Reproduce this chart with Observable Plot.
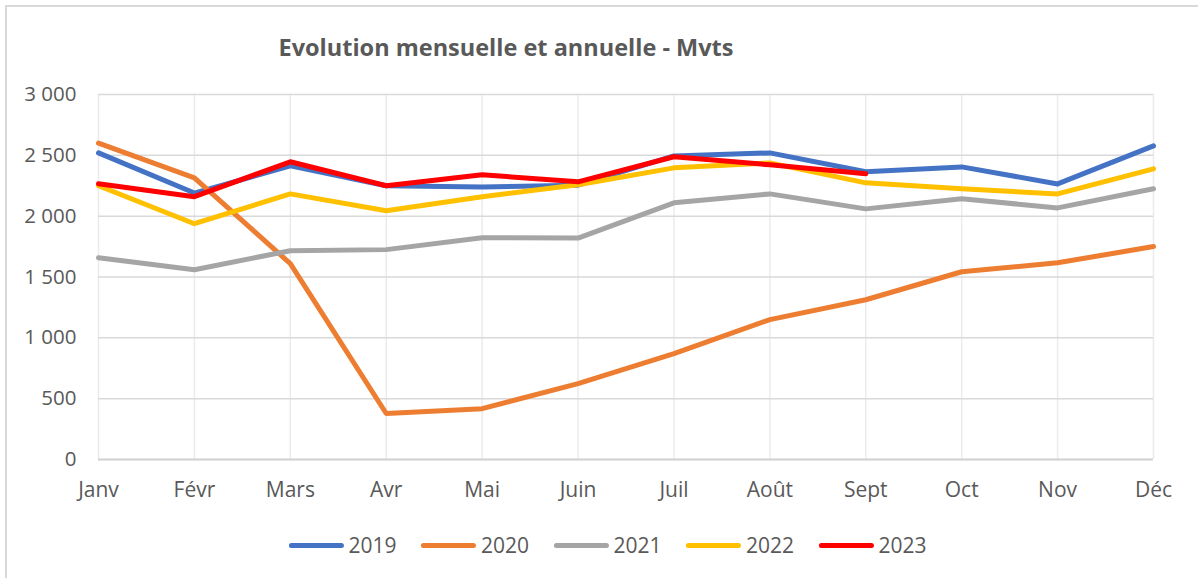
<!DOCTYPE html>
<html>
<head>
<meta charset="utf-8">
<script src="https://cdn.jsdelivr.net/npm/d3@7"></script>
<script src="https://cdn.jsdelivr.net/npm/@observablehq/plot@0.6"></script>
<style>
  html, body { margin: 0; padding: 0; background: #fff; }
  body { width: 1198px; height: 578px; position: relative; overflow: hidden; font-family: "Open Sans", sans-serif; }
  #frame { position: absolute; left: 5px; top: 5px; width: 1200px; height: 600px; border-top: 2px solid #d9d9d9; border-left: 2px solid #d9d9d9; box-sizing: border-box; }
  #title { position: absolute; left: 506px; top: 47px; transform: translate(-50%, -50%); font-size: 23.5px; font-weight: bold; color: #595959; white-space: nowrap; }
  #chart { position: absolute; left: 0; top: 70px; }
  #legend { position: absolute; left: 607.5px; top: 545px; transform: translate(-50%, -50%); display: flex; gap: 24.5px; font-size: 21px; color: #595959; white-space: nowrap; }
  .item { display: flex; align-items: center; gap: 5px; }
  .swatch { width: 55px; height: 5px; border-radius: 3px; }
</style>
</head>
<body>
<div id="frame"></div>
<div id="title">Evolution mensuelle et annuelle - Mvts</div>
<div id="chart"></div>
<div id="legend"></div>
<script>
const months = ["Janv","Févr","Mars","Avr","Mai","Juin","Juil","Août","Sept","Oct","Nov","Déc"];
const years = ["2019","2020","2021","2022","2023"];
const colors = ["#4472C4","#ED7D31","#A5A5A5","#FFC000","#FF0000"];
const yTicks = [0,500,1000,1500,2000,2500,3000];

const v2019 = [2520,2190,2414,2250,2240,2255,2495,2520,2365,2405,2265,2578];
const v2020 = [2600,2315,1610,378,418,624,870,1150,1313,1543,1617,1750];
const v2021 = [1658,1560,1716,1725,1823,1820,2110,2183,2060,2143,2068,2225];
const v2022 = [2250,1938,2183,2044,2160,2258,2397,2438,2274,2225,2183,2389];
const v2023 = [2266,2160,2447,2250,2340,2282,2488,2422,2348];

const series = [v2019, v2020, v2021, v2022, v2023];
const data = [];
series.forEach((vals, i) => vals.forEach((v, j) => data.push({year: years[i], month: months[j], value: v})));

const fmt = d => d3.format(",")(d).replace(/,/g, " ");

const chart = Plot.plot({
  width: 1198,
  height: 434,
  marginLeft: 98,
  marginRight: 45,
  marginTop: 24,
  marginBottom: 45,
  style: { fontFamily: "Open Sans, sans-serif", background: "transparent" },
  x: { type: "point", domain: months, padding: 0, round: false },
  y: { domain: [0, 3000] },
  color: { domain: years, range: colors },
  marks: [
    Plot.gridX(months, { stroke: "#ebebeb", strokeOpacity: 1, strokeWidth: 1.5 }),
    Plot.gridY(yTicks.filter(d => d > 0), { stroke: "#d9d9d9", strokeOpacity: 1, strokeWidth: 1.5 }),
    Plot.ruleY([0], { stroke: "#d0d0d0", strokeWidth: 2 }),
    Plot.axisY(yTicks, { tickSize: 0, tickPadding: 22, tickFormat: fmt, fontSize: 20.5, fill: "#595959", label: null }),
    Plot.axisX(months, { tickSize: 0, tickPadding: 23, fontSize: 21, fill: "#595959", label: null }),
    Plot.line(data, { x: "month", y: "value", z: "year", stroke: "year", strokeWidth: 5, strokeLinejoin: "round", strokeLinecap: "round" })
  ]
});
document.getElementById("chart").appendChild(chart);

const legend = document.getElementById("legend");
years.forEach((y, i) => {
  const it = document.createElement("div");
  it.className = "item";
  it.innerHTML = `<span class="swatch" style="background:${colors[i]}"></span><span>${y}</span>`;
  legend.appendChild(it);
});
</script>
</body>
</html>
